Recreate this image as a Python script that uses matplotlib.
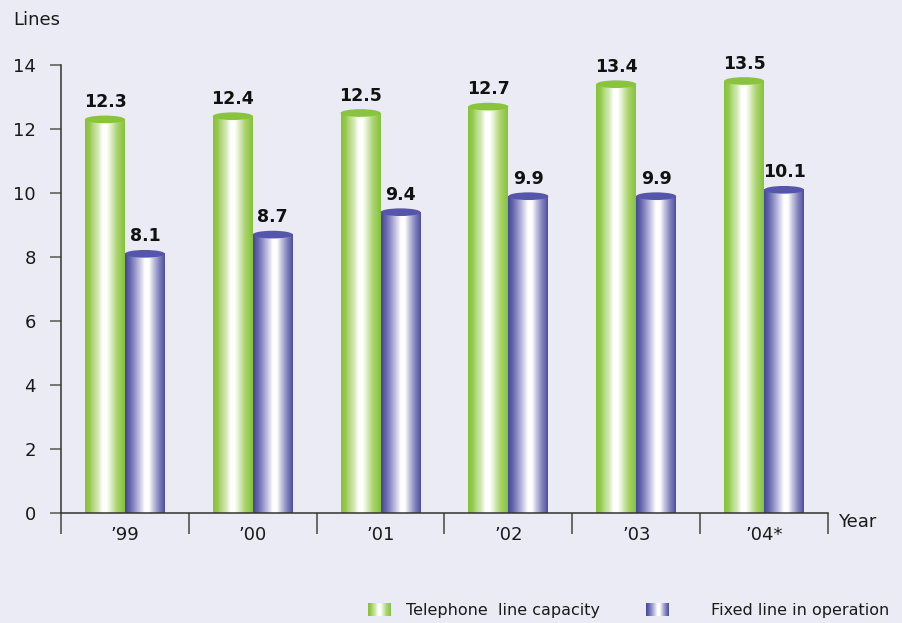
import numpy as np
import matplotlib
matplotlib.use("Agg")
import matplotlib.pyplot as plt
from matplotlib.colors import LinearSegmentedColormap
from matplotlib.patches import Ellipse

# Data
years = ["\u201999", "\u201900", "\u201901", "\u201902", "\u201903", "\u201904*"]
capacity = [12.3, 12.4, 12.5, 12.7, 13.4, 13.5]
in_operation = [8.1, 8.7, 9.4, 9.9, 9.9, 10.1]
yticks = [0, 2, 4, 6, 8, 10, 12, 14]

BG = "#EBEBF5"
plt.rcParams['font.family'] = ['DejaVu Sans']

# cylinder shading (left edge -> right edge)
green_cmap = LinearSegmentedColormap.from_list("g", [
    (0.0, "#86C236"), (0.12, "#95CB4B"), (0.2, "#B2D97E"), (0.33, "#D3E9B5"),
    (0.44, "#FFFFFF"), (0.55, "#FFFFFF"), (0.66, "#DAEDC1"), (0.8, "#ACD572"),
    (1.0, "#86C236")])
purple_cmap = LinearSegmentedColormap.from_list("p", [
    (0.0, "#46469C"), (0.12, "#6464AF"), (0.25, "#9595CA"), (0.38, "#CBCBE5"),
    (0.5, "#FFFFFF"), (0.6, "#FFFFFF"), (0.72, "#C0C0DF"), (0.86, "#8080BD"),
    (1.0, "#4D4DA4")])
green_cap = "#8AC43C"
purple_cap = "#5555A9"

W, H = 903, 623
fig = plt.figure(figsize=(W / 100, H / 100), dpi=100, facecolor=BG)
ax = fig.add_axes([61 / W, 1 - 513 / H, (828 - 61) / W, (513 - 65) / H])
ax.set_facecolor(BG)

grad = np.linspace(0, 1, 256).reshape(1, -1)
bw = 0.3125
x = np.arange(len(years))


def cylinder(xc, v, cmap, cap):
    ax.imshow(grad, cmap=cmap, extent=(xc - bw / 2, xc + bw / 2, 0, v),
              aspect='auto', interpolation='bilinear', zorder=2)
    ax.add_patch(Ellipse((xc, v), bw, 0.24, facecolor=cap, edgecolor='none', zorder=3))
    ax.annotate(f"{v:.1f}", (xc, v), xytext=(0, 6), textcoords='offset points',
                ha='center', va='bottom', fontsize=12.5, fontweight='bold', color='#111111')


for i in range(len(years)):
    cylinder(x[i] - bw / 2, capacity[i], green_cmap, green_cap)
    cylinder(x[i] + bw / 2, in_operation[i], purple_cmap, purple_cap)

ax.set_xlim(-0.5, len(years) - 0.5)
ax.set_ylim(0, 14)
for s in ['top', 'right']:
    ax.spines[s].set_visible(False)
for s in ['left', 'bottom']:
    ax.spines[s].set_color('#333333')
    ax.spines[s].set_linewidth(1.1)

ax.set_yticks(yticks)
ax.tick_params(axis='y', length=8, width=1.1, color='#555555', labelsize=13,
               labelcolor='#1a1a1a', pad=10)
ax.set_xticks(np.arange(len(years) + 1) - 0.5)
ax.set_xticklabels([])
ax.tick_params(axis='x', which='major', length=15, width=1.1, color='#444444')
ax.set_xticks(x, minor=True)
ax.set_xticklabels(years, minor=True)
ax.tick_params(axis='x', which='minor', length=0, labelsize=13, labelcolor='#1a1a1a', pad=9)

fig.text(13 / W, 1 - 20 / H, "Lines", fontsize=13, color='#1a1a1a', va='center', ha='left')
fig.text(838 / W, 1 - 522 / H, "Year", fontsize=13, color='#1a1a1a', va='center', ha='left')

# legend
for x0, cmap, label, tx in [(368, green_cmap, "Telephone  line capacity", 406),
                            (646, purple_cmap, "Fixed line in operation", 711)]:
    sw = fig.add_axes([x0 / W, 1 - 616 / H, 23 / W, 13 / H])
    sw.imshow(grad, cmap=cmap, aspect='auto', interpolation='bilinear')
    sw.axis('off')
    fig.text(tx / W, 1 - 611 / H, label, fontsize=11.5, color='#1a1a1a', va='center', ha='left')

fig.savefig("out.png", dpi=100, facecolor=BG)
